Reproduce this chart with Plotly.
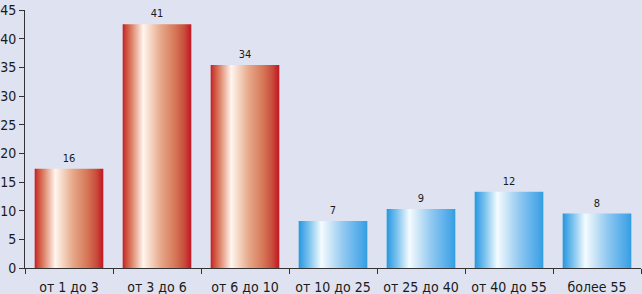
import plotly.graph_objects as go

categories = ["от 1 до 3", "от 3 до 6", "от 6 до 10", "от 10 до 25", "от 25 до 40", "от 40 до 55", "более 55"]
values = [16, 41, 34, 7, 9, 12, 8]
# bar tops as drawn in the picture (drawn slightly taller than the labels)
bar_tops = [17.3, 42.5, 35.4, 8.2, 10.3, 13.3, 9.5]
y_ticks = [0, 5, 10, 15, 20, 25, 30, 35, 40, 45]

red_scale = [[0, '#c21c2a'], [0.04, '#cc4436'], [0.12, '#db7a5e'], [0.3, '#fff6ee'],
             [0.4, '#f6d8c6'], [0.56, '#e6a788'], [0.76, '#d67858'], [0.9, '#c84c3a'],
             [0.96, '#c42a2c'], [1, '#bf1828']]
blue_scale = [[0, '#2896dc'], [0.06, '#48a8e6'], [0.15, '#7cc2ee'], [0.33, '#f4fbff'],
              [0.46, '#cde6f8'], [0.66, '#8ec7f0'], [0.86, '#5aafea'], [0.95, '#44a5e4'],
              [1, '#2c9ee0']]
bar_scales = [red_scale] * 3 + [blue_scale] * 4

FONT = "DejaVu Sans Condensed, Liberation Sans Narrow, sans-serif"
BG = '#dfe3f1'
width = 0.78

fig = go.Figure()
for i, (top, sc) in enumerate(zip(bar_tops, bar_scales)):
    x0, x1 = i - width / 2, i + width / 2
    fig.add_trace(go.Scatter(
        x=[x0, x1, x1, x0, x0], y=[0, 0, top, top, 0],
        mode='lines', fill='toself', line=dict(width=0),
        fillgradient=dict(type='horizontal', colorscale=sc),
        hoverinfo='skip', showlegend=False))

fig.add_trace(go.Scatter(
    x=list(range(len(categories))), y=bar_tops, mode='markers+text',
    marker=dict(size=5, color='rgba(0,0,0,0)'),
    text=[str(v) for v in values], textposition='top center',
    textfont=dict(family=FONT, size=11, color='#1a1a1a'),
    cliponaxis=False, hoverinfo='skip', showlegend=False))

n = len(categories)
fig.update_layout(
    width=642, height=294,
    margin=dict(l=25, r=1, t=10, b=26),
    paper_bgcolor=BG, plot_bgcolor=BG,
    font=dict(family=FONT, size=14, color='#1a1a1a'),
    xaxis=dict(range=[-0.5, n - 0.5], tickmode='array',
               tickvals=list(range(n)), ticktext=categories,
               ticks='outside', ticklen=6, tickcolor='rgba(0,0,0,0)',
               showgrid=False, zeroline=False, showline=True,
               linecolor='#333333', linewidth=1, automargin=False,
               tickfont=dict(family=FONT, size=14, color='#1a1a1a'),
               minor=dict(tickmode='array', tickvals=[i - 0.5 for i in range(n + 1)],
                          ticks='outside', ticklen=5, tickcolor='#333333', showgrid=False),
               fixedrange=True),
    yaxis=dict(range=[0, 45], tickmode='array', tickvals=y_ticks,
               ticks='outside', ticklen=5, tickcolor='#333333',
               showgrid=False, zeroline=False, showline=True,
               linecolor='#333333', linewidth=1, automargin=False,
               tickfont=dict(family=FONT, size=14, color='#1a1a1a'),
               fixedrange=True),
)

fig.write_html("out.html", config={'displayModeBar': False},
               post_script="document.body.style.margin='0';document.body.style.background='%s';" % BG)
